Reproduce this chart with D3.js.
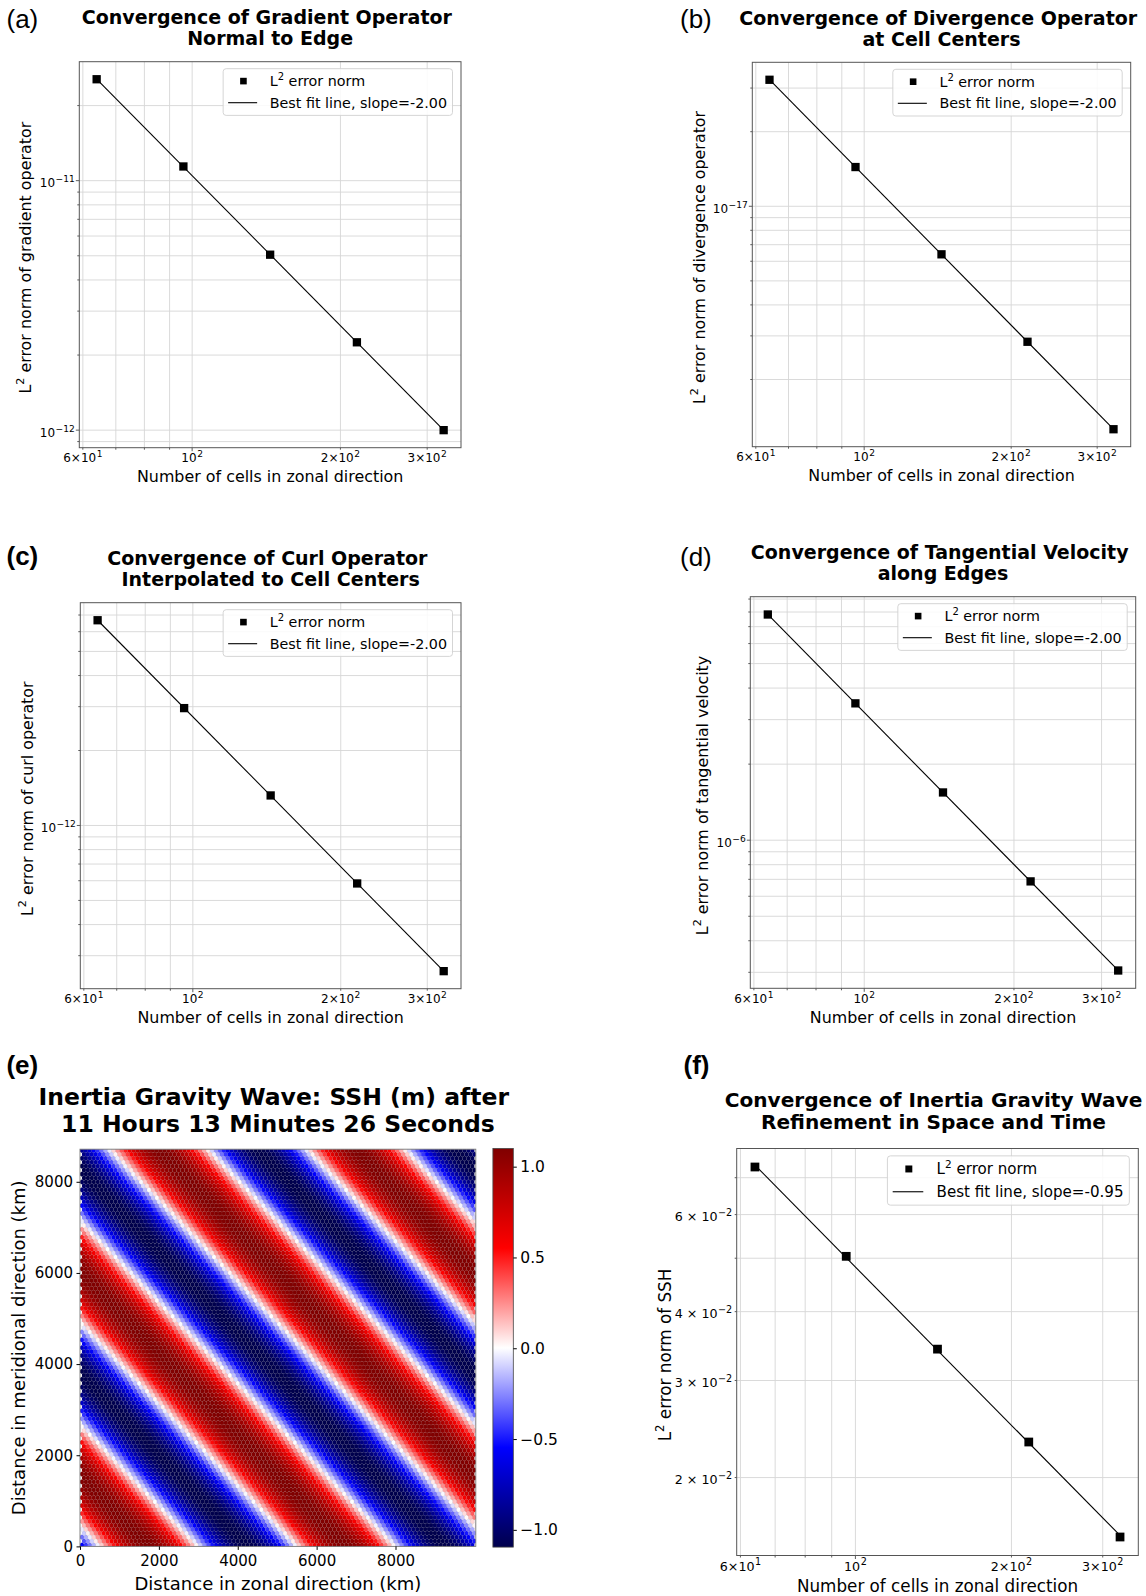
<!DOCTYPE html>
<html>
<head>
<meta charset="utf-8">
<script src="https://d3js.org/d3.v7.min.js"></script>
<style>
  body { margin: 0; background: #fff; }
  svg text { font-family: "DejaVu Sans", sans-serif; white-space: pre; fill: #000; }
</style>
</head>
<body>
<script>

// number of cells in zonal direction (same for all convergence panels)
var nCells = [64, 96, 144, 216, 324];

// L2 error norms
var errGradient   = [2.55e-11, 1.14e-11, 5.05e-12, 2.25e-12, 1.00e-12];
var errDivergence = [3.24e-17, 1.44e-17, 6.40e-18, 2.84e-18, 1.26e-18];
var errCurl       = [6.67e-12, 2.96e-12, 1.32e-12, 5.85e-13, 2.60e-13];
var errTangential = [7.82e-6, 3.48e-6, 1.545e-6, 6.87e-7, 3.05e-7];
var errSSH        = [0.0732, 0.0504, 0.0342, 0.0232, 0.0156];

// x tick labels : mantissa part, exponent
var xTickVals = [60, 100, 200, 300];
var xTickText = [["6×10", "1"], ["10", "2"], ["2×10", "2"], ["3×10", "2"]];

// y tick labels for each panel
var yTickA = [1e-11, 1e-12],  yTextA = [["10", "\u221211"], ["10", "\u221212"]];
var yTickB = [1e-17],         yTextB = [["10", "\u221217"]];
var yTickC = [1e-12],         yTextC = [["10", "\u221212"]];
var yTickD = [1e-6],          yTextD = [["10", "\u22126"]];
var yTickF = [0.02, 0.03, 0.04, 0.06];
var yTextF = [["2 × 10", "\u22122"], ["3 × 10", "\u22122"], ["4 × 10", "\u22122"], ["6 × 10", "\u22122"]];

// panel (e): SSH wave (stripe spacing, crest position, colorbar range)
var sshAmp = 1.1;                 // m
var waveLx = 5000, waveLy = 4470; // km
var crestX = 1750;                // km, crest position on the bottom edge
var heatXMax = 10036, heatYMax = 8715;   // km, axis limits
var heatXTicks = [0, 2000, 4000, 6000, 8000];
var heatYTicks = [0, 2000, 4000, 6000, 8000];
var cbarTicks = [-1.0, -0.5, 0.0, 0.5, 1.0];
var cbarRange = [-1.095, 1.1];

var svg = d3.select("body").append("svg")
    .attr("width", 1146)
    .attr("height", 1596);

// small helper for "10^x" style labels
function mathText(sel, base, sup, fsz) {
  sel.append("tspan").text(base);
  sel.append("tspan").attr("dx", 0.5).attr("dy", -0.42 * fsz).attr("font-size", 0.76 * fsz).text(sup);
}

function isDecade(v) {
  var l = Math.log10(v);
  return Math.abs(l - Math.round(l)) < 1e-6;
}

function drawLetter(t, x, y, bold) {
  svg.append("text")
    .attr("x", x).attr("y", y)
    .attr("font-size", 26)
    .attr("font-weight", bold ? "bold" : "normal")
    .style("font-family", "'Liberation Sans', Arial, sans-serif")
    .text(t);
}

function drawTitle(lines, cx, ys, fsz) {
  lines.forEach(function(s, i) {
    svg.append("text")
      .attr("x", cx).attr("y", ys[i])
      .attr("text-anchor", "middle")
      .attr("font-size", fsz)
      .attr("font-weight", "bold")
      .text(s);
  });
}

function drawConvergence(p) {
  var L = p.box[0], T = p.box[1], R = p.box[2], B = p.box[3], k = p.fs;
  var g = svg.append("g");

  // matplotlib-like autoscale: 5% margin in log space
  var lx = nCells.map(Math.log10), ly = p.err.map(Math.log10);
  var ex = d3.extent(lx), ey = d3.extent(ly);
  var mxm = 0.05 * (ex[1] - ex[0]), mym = 0.05 * (ey[1] - ey[0]);
  var x = d3.scaleLog().domain([Math.pow(10, ex[0] - mxm), Math.pow(10, ex[1] + mxm)]).range([L, R]);
  var y = d3.scaleLog().domain([Math.pow(10, ey[0] - mym), Math.pow(10, ey[1] + mym)]).range([B, T]);
  var gx = x.ticks(), gy = y.ticks();

  // grid (major + minor)
  g.selectAll(".gx").data(gx).join("line")
    .attr("x1", function(d) { return x(d); }).attr("x2", function(d) { return x(d); })
    .attr("y1", T).attr("y2", B)
    .attr("stroke", "#d6d6d6").attr("stroke-width", 0.9);
  g.selectAll(".gy").data(gy).join("line")
    .attr("y1", function(d) { return y(d); }).attr("y2", function(d) { return y(d); })
    .attr("x1", L).attr("x2", R)
    .attr("stroke", "#d6d6d6").attr("stroke-width", 0.9);

  // tick marks
  g.selectAll(".tx").data(gx).join("line")
    .attr("x1", function(d) { return x(d); }).attr("x2", function(d) { return x(d); })
    .attr("y1", B).attr("y2", function(d) { return B + (isDecade(d) ? 3.5 : 2); })
    .attr("stroke", "#333").attr("stroke-width", 0.8);
  g.selectAll(".ty").data(gy).join("line")
    .attr("y1", function(d) { return y(d); }).attr("y2", function(d) { return y(d); })
    .attr("x1", L).attr("x2", function(d) { return L - (isDecade(d) ? 3.5 : 2); })
    .attr("stroke", "#333").attr("stroke-width", 0.8);

  // frame
  g.append("rect")
    .attr("x", L).attr("y", T).attr("width", R - L).attr("height", B - T)
    .attr("fill", "none").attr("stroke", "#555").attr("stroke-width", 1);

  // least squares fit in log-log
  var mx = d3.mean(lx), my = d3.mean(ly);
  var slope = d3.sum(lx, function(v, i) { return (v - mx) * (ly[i] - my); }) /
              d3.sum(lx, function(v) { return (v - mx) * (v - mx); });
  var icpt = my - slope * mx;
  var line = d3.line()
    .x(function(d) { return x(d); })
    .y(function(d) { return y(Math.pow(10, icpt + slope * Math.log10(d))); });
  g.append("path")
    .datum([nCells[0], nCells[nCells.length - 1]])
    .attr("d", line)
    .attr("fill", "none").attr("stroke", "#000").attr("stroke-width", 1.1);

  // markers
  var ms = 8.3 * k;
  g.selectAll(".pt").data(nCells).join("rect")
    .attr("x", function(d) { return x(d) - ms / 2; })
    .attr("y", function(d, i) { return y(p.err[i]) - ms / 2; })
    .attr("width", ms).attr("height", ms)
    .attr("fill", "#000");

  // tick labels
  var tfs = 12 * k;
  xTickVals.forEach(function(v, i) {
    var t = g.append("text")
      .attr("x", x(v)).attr("y", B + 14.5 * k)
      .attr("text-anchor", "middle")
      .attr("font-size", tfs);
    mathText(t, xTickText[i][0], xTickText[i][1], tfs);
  });
  p.yTicks.forEach(function(v, i) {
    var t = g.append("text")
      .attr("x", L - 4.5).attr("y", y(v) + 6.5 * k)
      .attr("text-anchor", "end")
      .attr("font-size", tfs);
    mathText(t, p.yText[i][0], p.yText[i][1], tfs);
  });

  // axis labels
  var lfs = 15.9 * k;
  g.append("text")
    .attr("x", (L + R) / 2).attr("y", B + 34.5 * k)
    .attr("text-anchor", "middle")
    .attr("font-size", lfs)
    .text("Number of cells in zonal direction");
  var yl = g.append("text")
    .attr("transform", "translate(" + p.ylabelX + "," + ((T + B) / 2 + 3) + ") rotate(-90)")
    .attr("text-anchor", "middle")
    .attr("font-size", lfs);
  yl.append("tspan").text("L");
  yl.append("tspan").attr("dy", -0.42 * lfs).attr("font-size", 0.7 * lfs).text("2");
  yl.append("tspan").attr("dy", 0.42 * lfs).text(p.ylabel);

  // legend
  var lgfs = 14.3 * k;
  var lg = g.append("g");
  var box = lg.append("rect");
  var t1 = lg.append("text").attr("x", 46.6 * k).attr("y", 12.4 * k + 5 * k).attr("font-size", lgfs);
  t1.append("tspan").text("L");
  t1.append("tspan").attr("dy", -0.42 * lgfs).attr("font-size", 0.7 * lgfs).text("2");
  t1.append("tspan").attr("dy", 0.42 * lgfs).text(" error norm");
  var t2 = lg.append("text").attr("x", 46.6 * k).attr("y", 34 * k + 5 * k).attr("font-size", lgfs)
    .text("Best fit line, slope=" + slope.toFixed(2));
  var wTxt = Math.max(t1.node().getComputedTextLength(), t2.node().getComputedTextLength());
  var lw = 46.6 * k + wTxt + 5.5 * k, lh = 46.7 * k;
  box.attr("width", lw).attr("height", lh).attr("rx", 3)
    .attr("fill", "#fff").attr("fill-opacity", 0.85)
    .attr("stroke", "#d0d0d0").attr("stroke-width", 0.9);
  lg.append("rect")
    .attr("x", 20.3 * k - 3.3 * k).attr("y", 12.4 * k - 3.3 * k)
    .attr("width", 6.6 * k).attr("height", 6.6 * k).attr("fill", "#000");
  lg.append("line")
    .attr("x1", 5 * k).attr("x2", 34 * k).attr("y1", 34 * k).attr("y2", 34 * k)
    .attr("stroke", "#000").attr("stroke-width", 1.1);
  lg.attr("transform", "translate(" + (R - 8.5 * k - lw) + "," + (T + 7 * k) + ")");

  drawLetter(p.letter, p.letterPos[0], p.letterPos[1], p.letterBold);
  drawTitle(p.title, p.titleX || (L + R) / 2, p.titleY, p.titleSize);
}

var panels = [
  { err: errGradient, yTicks: yTickA, yText: yTextA,
    title: ["Convergence of Gradient Operator ", "Normal to Edge"],
    ylabel: " error norm of gradient operator", letter: "(a)",
    box: [79.3, 61.7, 461, 447.7], fs: 1, ylabelX: 31, letterPos: [6.5, 27.8], letterBold: false,
    titleY: [24, 44.5], titleSize: 19 },
  { err: errDivergence, yTicks: yTickB, yText: yTextB,
    title: ["Convergence of Divergence Operator ", "at Cell Centers"],
    ylabel: " error norm of divergence operator", letter: "(b)",
    box: [752.3, 62.3, 1130.7, 446.7], fs: 1, ylabelX: 705, letterPos: [680, 27.8], letterBold: false,
    titleY: [25, 45.7], titleSize: 19 },
  { err: errCurl, yTicks: yTickC, yText: yTextC,
    title: ["Convergence of Curl Operator ", "Interpolated to Cell Centers"],
    ylabel: " error norm of curl operator", letter: "(c)",
    box: [80.3, 602.7, 461, 988.7], fs: 1, ylabelX: 33, letterPos: [6.5, 564.5], letterBold: true,
    titleY: [565, 586], titleSize: 19 },
  { err: errTangential, yTicks: yTickD, yText: yTextD,
    title: ["Convergence of Tangential Velocity ", "along Edges"],
    ylabel: " error norm of tangential velocity", letter: "(d)",
    box: [750.3, 596.7, 1135.7, 988.3], fs: 1, ylabelX: 708, letterPos: [680, 566], letterBold: false,
    titleY: [559.3, 580], titleSize: 19 },
  { err: errSSH, yTicks: yTickF, yText: yTextF,
    title: ["Convergence of Inertia Gravity Wave", "Refinement in Space and Time"],
    ylabel: " error norm of SSH", letter: "(f)",
    box: [736.7, 1148.5, 1138.3, 1555.5], fs: 1.055, ylabelX: 671, letterPos: [683.5, 1073.5], letterBold: true,
    titleY: [1107.4, 1128.7], titleSize: 20.1, titleX: 933.5 }
];
panels.forEach(drawConvergence);

// ---------------- panel (e): SSH field on a hexagonal mesh ----------------
var hb = [80, 1149.2, 475.8, 1546.4];
var cb = [492.9, 1148.5, 513.3, 1547.1];
var seismic = ["#00004c", "#0000ff", "#ffffff", "#ff0000", "#800000"];
var color = d3.scaleLinear()
  .domain(d3.range(5).map(function(i) { return cbarRange[0] + i * (cbarRange[1] - cbarRange[0]) / 4; }))
  .range(seismic).clamp(true);

var hx = d3.scaleLinear().domain([0, heatXMax]).range([hb[0], hb[2]]);
var hy = d3.scaleLinear().domain([0, heatYMax]).range([hb[3], hb[1]]);

var dc = 100, dy = dc * Math.sqrt(3) / 2, rad = dc / Math.sqrt(3);
var meshCells = [];
for (var j = 0; j <= 100; j++) {
  for (var i = 0; i < 100; i++) {
    var cx = (j % 2 === 0) ? (i + 0.5) * dc : (i + 1) * dc;
    var cy = j * dy + rad / 2;
    var h = sshAmp * Math.cos(2 * Math.PI * ((cx - crestX) / waveLx + cy / waveLy));
    meshCells.push({ x: cx, y: cy, h: h });
  }
}
function hexPath(d) {
  var pts = [[0, rad], [dc / 2, rad / 2], [dc / 2, -rad / 2], [0, -rad], [-dc / 2, -rad / 2], [-dc / 2, rad / 2]];
  return "M" + pts.map(function(q) { return hx(d.x + q[0]).toFixed(2) + "," + hy(d.y + q[1]).toFixed(2); }).join("L") + "Z";
}

svg.append("clipPath").attr("id", "heatclip")
  .append("rect").attr("x", hb[0]).attr("y", hb[1]).attr("width", hb[2] - hb[0]).attr("height", hb[3] - hb[1]);

var ge = svg.append("g");
ge.append("g").attr("clip-path", "url(#heatclip)")
  .selectAll("path").data(meshCells).join("path")
  .attr("d", hexPath)
  .attr("fill", function(d) { return color(d.h); })
  .attr("stroke", "rgba(90,90,90,0.18)")
  .attr("stroke-width", 0.35);

ge.append("rect")
  .attr("x", hb[0]).attr("y", hb[1]).attr("width", hb[2] - hb[0]).attr("height", hb[3] - hb[1])
  .attr("fill", "none").attr("stroke", "#777").attr("stroke-width", 0.9);

var efs = 15;
ge.append("g").attr("transform", "translate(0," + hb[3] + ")")
  .call(d3.axisBottom(hx).tickValues(heatXTicks).tickSize(3.5).tickPadding(3.5).tickFormat(d3.format("d")))
  .call(function(a) {
    a.select(".domain").remove();
    a.selectAll("text").attr("font-size", efs).attr("dy", "0.85em");
  });
ge.append("g").attr("transform", "translate(" + hb[0] + ",0)")
  .call(d3.axisLeft(hy).tickValues(heatYTicks).tickSize(3.5).tickPadding(3.5).tickFormat(d3.format("d")))
  .call(function(a) {
    a.select(".domain").remove();
    a.selectAll("text").attr("font-size", efs);
  });

// colorbar
var cy = d3.scaleLinear().domain(cbarRange).range([cb[3], cb[1]]);
var grad = svg.append("defs").append("linearGradient")
  .attr("id", "seis").attr("x1", 0).attr("y1", 1).attr("x2", 0).attr("y2", 0);
seismic.forEach(function(c, i) {
  grad.append("stop").attr("offset", i / 4).attr("stop-color", c);
});
ge.append("rect")
  .attr("x", cb[0]).attr("y", cb[1]).attr("width", cb[2] - cb[0]).attr("height", cb[3] - cb[1])
  .attr("fill", "url(#seis)").attr("stroke", "#444").attr("stroke-width", 0.8);
ge.append("g").attr("transform", "translate(" + cb[2] + ",0)")
  .call(d3.axisRight(cy).tickValues(cbarTicks).tickSize(3.5).tickPadding(3.5)
    .tickFormat(function(d) { return d3.format(".1f")(d).replace("-", "\u2212"); }))
  .call(function(a) {
    a.select(".domain").remove();
    a.selectAll("text").attr("font-size", 15.5);
  });

ge.append("text")
  .attr("x", (hb[0] + hb[2]) / 2).attr("y", 1589.6)
  .attr("text-anchor", "middle").attr("font-size", 18)
  .text("Distance in zonal direction (km)");
ge.append("text")
  .attr("transform", "translate(25," + ((hb[1] + hb[3]) / 2) + ") rotate(-90)")
  .attr("text-anchor", "middle").attr("font-size", 18)
  .text("Distance in meridional direction (km)");

drawLetter("(e)", 6.4, 1073.5, true);
drawTitle(["Inertia Gravity Wave: SSH (m) after ", "11 Hours 13 Minutes 26 Seconds"], (hb[0] + hb[2]) / 2, [1105, 1131.5], 23.5);

</script>
</body>
</html>
